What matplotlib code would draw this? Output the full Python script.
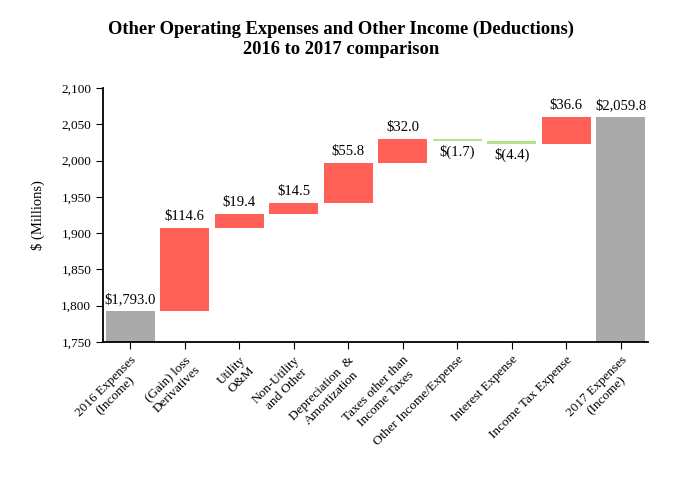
import numpy as np
import matplotlib
matplotlib.use("Agg")
import matplotlib.pyplot as plt
from matplotlib.ticker import FuncFormatter

categories = ["2016 Expenses\n(Income)", "(Gain) loss\nDerivatives", "Utility\nO&M",
              "Non-Utility\nand Other", "Depreciation  &\nAmortization",
              "Taxes other than\nIncome Taxes", "Other Income/Expense",
              "Interest Expense", "Income Tax Expense", "2017 Expenses\n(Income)"]
start_total = 1793.0
changes = [114.6, 19.4, 14.5, 55.8, 32.0, -1.7, -4.4, 36.6]
end_total = 2059.8

plt.rcParams['font.family'] = ['Liberation Serif', 'DejaVu Serif']

red = '#ff6057'
green = '#b7e08a'
gray = '#aaaaaa'

fig = plt.figure(figsize=(6.82, 4.8), dpi=100)
ax = fig.add_axes([0.151, 0.2875, 0.799, 0.529])

floor = 1750
x = np.arange(len(categories))
w = 0.9

# totals
ax.bar(x[0], start_total - floor, bottom=floor, width=w, color=gray)
ax.bar(x[-1], end_total - floor, bottom=floor, width=w, color=gray)
ax.text(x[0], start_total + 7, "$1,793.0", ha='center', va='bottom', fontsize=10.5)
ax.text(x[-1], end_total + 7, "$2,059.8", ha='center', va='bottom', fontsize=10.5)

level = start_total
for i, c in enumerate(changes, start=1):
    lo = min(level, level + c)
    col = red if c > 0 else green
    ax.bar(x[i], abs(c), bottom=lo, width=w, color=col)
    if c > 0:
        ax.text(x[i], level + c + 7, "${:.1f}".format(c), ha='center', va='bottom', fontsize=10.5)
    else:
        ax.text(x[i], lo - 6, "$({:.1f})".format(-c), ha='center', va='top', fontsize=10.5)
    level += c

ax.set_xlim(-0.5, len(categories) - 0.5)
ax.set_ylim(1750, 2100)
ax.set_yticks(np.arange(1750, 2101, 50))
ax.yaxis.set_major_formatter(FuncFormatter(lambda v, p: "{:,.0f}".format(v)))
ax.set_xticks(x)
ax.set_xticklabels(categories, rotation=45, ha='right', rotation_mode='anchor',
                   fontsize=9.5, multialignment='center')
ax.tick_params(axis='y', labelsize=9.5, direction='out', length=5)
ax.tick_params(axis='x', direction='out', length=5)
ax.spines['top'].set_visible(False)
ax.spines['right'].set_visible(False)
ax.spines['left'].set_linewidth(1.3)
ax.spines['bottom'].set_linewidth(1.3)
ax.set_ylabel("$ (Millions)", fontsize=10.5, labelpad=12)

fig.suptitle("Other Operating Expenses and Other Income (Deductions)\n2016 to 2017 comparison",
             fontsize=13.3, fontweight='bold', y=0.957)

fig.savefig("out.png", dpi=100)
